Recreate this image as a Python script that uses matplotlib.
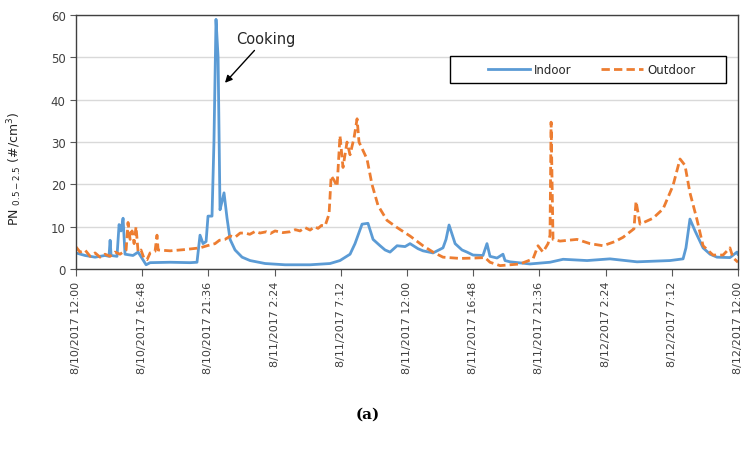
import matplotlib
matplotlib.use("Agg")
import matplotlib.pyplot as plt
from matplotlib.patches import Rectangle
import pandas as pd

# hours after 8/10/2017 12:00
indoor_h = [0.0, 0.65, 1.38, 2.1, 2.39, 2.47, 2.54, 2.97, 3.12, 3.26, 3.41, 3.55, 4.13, 4.5,
            4.79, 5.08, 5.37, 6.82, 8.27, 8.77, 8.99, 9.21, 9.43, 9.57, 9.86, 10.0, 10.15,
            10.3, 10.44, 10.59, 10.73, 10.95, 11.17, 11.53, 12.04, 12.62, 13.71, 15.16, 16.97,
            18.42, 19.14, 19.87, 20.23, 20.74, 21.17, 21.54, 22.05, 22.41, 22.77, 23.28, 23.86,
            24.22, 24.8, 25.16, 25.89, 26.61, 26.83, 27.05, 27.49, 27.99, 28.35, 28.79, 29.51,
            29.8, 30.02, 30.53, 30.96, 31.11, 31.47, 32.92, 34.37, 35.32, 37.06, 38.72, 40.68,
            43.07, 44.02, 44.23, 44.52, 44.89, 45.47, 45.98, 46.48, 47.42, 47.93, 48.0]
indoor = [3.8, 3.2, 2.8, 3.2, 3.0, 6.8, 3.2, 3.0, 10.5, 9.0, 12.0, 3.5, 3.2, 4.0,
          2.5, 1.0, 1.5, 1.6, 1.5, 1.6, 8.0, 6.0, 6.5, 12.5, 12.5, 30.0, 59.0,
          50.0, 14.0, 16.0, 18.0, 12.0, 7.0, 4.5, 2.8, 2.0, 1.3, 1.0, 1.0,
          1.3, 2.0, 3.5, 6.0, 10.6, 10.8, 7.0, 5.5, 4.5, 4.0, 5.5, 5.3,
          6.0, 4.8, 4.3, 3.8, 5.0, 7.0, 10.4, 6.0, 4.5, 4.0, 3.3, 3.2,
          6.0, 3.0, 2.6, 3.5, 2.0, 1.7, 1.2, 1.6, 2.3, 2.0, 2.4, 1.7,
          2.0, 2.4, 5.0, 11.8, 9.0, 5.0, 3.5, 2.8, 2.7, 4.0, 3.5]

outdoor_h = [0.0, 0.29, 0.65, 1.02, 1.38, 1.74, 2.1, 2.47, 2.83, 3.19, 3.63, 3.77, 3.92, 4.06,
             4.21, 4.35, 4.5, 4.71, 4.93, 5.15, 5.37, 5.73, 5.87, 5.95, 6.82, 7.9, 8.99, 9.5,
             10.08, 10.4, 10.8, 11.2, 11.53, 11.9, 12.26, 12.6, 13.0, 13.34, 13.8, 14.1, 14.43,
             15.0, 15.52, 15.9, 16.24, 16.6, 16.97, 17.3, 17.55, 17.8, 18.06, 18.35, 18.5,
             18.71, 18.93, 19.14, 19.36, 19.65, 19.87, 20.16, 20.38, 20.52, 20.81, 21.1, 21.46,
             21.9, 22.55, 23.28, 24.22, 25.16, 25.89, 26.61, 27.85, 28.93, 29.66, 30.02, 30.75,
             32.2, 33.14, 33.5, 33.86, 34.23, 34.37, 34.45, 34.59, 35.1, 36.33, 37.27, 38.22,
             39.09, 39.67, 40.46, 40.61, 40.9, 41.84, 42.57, 43.29, 43.8, 44.16, 44.52, 45.02,
             45.47, 46.19, 46.92, 47.42, 47.64, 48.0]
outdoor = [5.2, 4.0, 4.5, 3.0, 3.8, 2.8, 3.5, 3.0, 4.0, 3.5, 4.5, 11.0, 7.0, 9.0,
           6.0, 10.0, 4.0, 4.5, 2.5, 2.2, 3.8, 4.2, 8.0, 4.5, 4.3, 4.6, 5.0, 5.5,
           6.0, 6.8, 7.0, 7.8, 7.5, 8.5, 8.5, 8.2, 8.9, 8.5, 8.8, 8.4, 9.0,
           8.6, 8.8, 9.3, 9.0, 9.8, 9.2, 10.0, 9.6, 10.3, 10.2, 13.0, 22.0,
           21.0, 19.5, 31.5, 24.0, 30.0, 27.0, 31.0, 35.5, 30.0, 28.0, 26.0, 20.0,
           15.0, 11.5, 9.8, 7.8, 5.5, 4.0, 2.8, 2.5, 2.6, 2.7, 1.6, 0.8,
           1.2, 2.4, 5.5, 4.0, 6.0, 8.0, 34.7, 7.0, 6.6, 7.0, 6.0, 5.5,
           6.5, 7.5, 9.5, 16.0, 10.6, 12.0, 14.2, 19.7, 26.0, 24.5, 18.0, 11.8,
           5.5, 3.3, 3.3, 5.0, 2.7, 1.6]

tick_labels = ["8/10/2017 12:00", "8/10/2017 16:48", "8/10/2017 21:36", "8/11/2017 2:24",
               "8/11/2017 7:12", "8/11/2017 12:00", "8/11/2017 16:48", "8/11/2017 21:36",
               "8/12/2017 2:24", "8/12/2017 7:12", "8/12/2017 12:00"]

start = pd.Timestamp("2017-08-10 12:00")
end = pd.Timestamp("2017-08-12 12:00")
t_in = start + pd.to_timedelta(indoor_h, unit="h")
t_out = start + pd.to_timedelta(outdoor_h, unit="h")

fig = plt.figure(figsize=(7.53, 4.60), dpi=100)
ax = fig.add_axes([0.101, 0.413, 0.879, 0.552])

ax.plot(t_in, indoor, color="#5B9BD5", lw=2, label="Indoor")
ax.plot(t_out, outdoor, color="#ED7D31", lw=2, linestyle=(0, (3, 1.5)), label="Outdoor")

ax.set_xlim(start, end)
ax.set_ylim(0, 60)
ax.set_yticks(range(0, 61, 10))
ax.set_xticks(pd.date_range(start, end, periods=11))
ax.set_xticklabels(tick_labels, rotation=90, fontsize=8, color="#404040")
ax.tick_params(axis="y", labelsize=8.5, labelcolor="#404040", length=4, color="#595959")
ax.tick_params(axis="x", length=5, color="#595959")
ax.grid(axis="y", color="#D9D9D9", lw=1)
ax.set_axisbelow(True)
for s in ax.spines.values():
    s.set_color("#404040")
    s.set_linewidth(1)

ax.set_ylabel(r"PN $_{\mathregular{0.5-2.5}}$ (#/cm$^{\mathregular{3}}$)", fontsize=9, color="#262626")
ax.yaxis.set_label_coords(-0.078, 0.40)

ax.annotate("Cooking", xy=(start + pd.Timedelta(hours=10.8), 44.0),
            xytext=(start + pd.Timedelta(hours=11.6), 53.5), fontsize=10.5, color="#262626",
            arrowprops=dict(arrowstyle="-|>", color="black", lw=1, shrinkA=2, shrinkB=0))

# legend box drawn separately (wide padding like the original)
ax.add_patch(Rectangle((0.565, 0.732), 0.417, 0.107, transform=ax.transAxes,
                       fill=True, facecolor="white", edgecolor="black", lw=1, zorder=4))
leg = ax.legend(loc="center left", bbox_to_anchor=(0.606, 0.787), ncol=2, fontsize=8.5,
                frameon=False, handlelength=3.6, handletextpad=0.3,
                columnspacing=2.5, labelcolor="#262626")
leg.set_zorder(5)

fig.text(0.489, 0.09, "(a)", fontsize=11, fontweight="bold", family="DejaVu Serif", ha="center")

fig.savefig("out.png", dpi=100)
